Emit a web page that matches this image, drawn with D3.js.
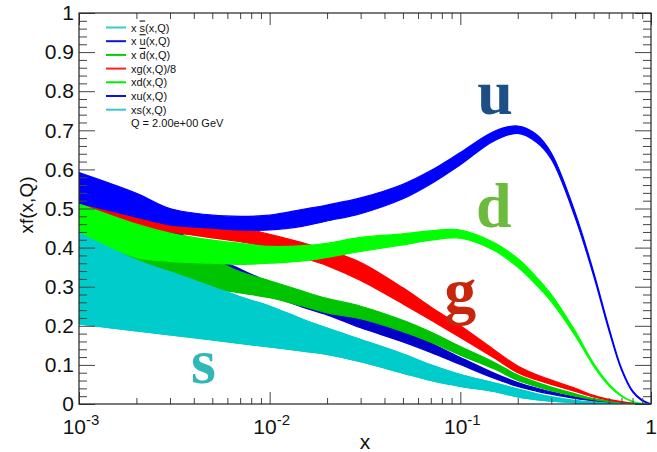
<!DOCTYPE html>
<html>
<head>
<meta charset="utf-8">
<script src="https://cdn.jsdelivr.net/npm/d3@7"></script>
<style>
  body { margin: 0; background: #fff; }
  text { font-family: "Liberation Sans", Arial, sans-serif; }
</style>
</head>
<body>
<svg id="chart" width="657" height="452"></svg>
<script>
var X = [0.001, 0.002, 0.003, 0.005, 0.007, 0.01, 0.015, 0.02, 0.03, 0.05, 0.07, 0.1, 0.15, 0.2, 0.25, 0.3, 0.4, 0.5, 0.6, 0.7, 0.8, 0.9, 1.0]

var U_LO = [0.514, 0.478, 0.458, 0.450, 0.445, 0.445, 0.455, 0.468, 0.487, 0.525, 0.563, 0.612, 0.673, 0.692, 0.670, 0.626, 0.477, 0.328, 0.190, 0.087, 0.031, 0.008, 0]
var U_HI = [0.592, 0.539, 0.500, 0.483, 0.480, 0.483, 0.498, 0.509, 0.527, 0.562, 0.597, 0.643, 0.697, 0.711, 0.690, 0.642, 0.490, 0.338, 0.198, 0.092, 0.034, 0.010, 0]
var D_LO = [0.437, 0.375, 0.365, 0.360, 0.357, 0.360, 0.366, 0.375, 0.390, 0.407, 0.419, 0.424, 0.393, 0.350, 0.305, 0.262, 0.175, 0.097, 0.047, 0.019, 0.006, 0.001, 0]
var D_HI = [0.512, 0.460, 0.437, 0.419, 0.411, 0.403, 0.405, 0.411, 0.426, 0.435, 0.443, 0.445, 0.413, 0.372, 0.325, 0.280, 0.187, 0.104, 0.052, 0.022, 0.007, 0.0015, 0]
var G_LO = [0.470, 0.450, 0.440, 0.425, 0.415, 0.400, 0.374, 0.354, 0.316, 0.256, 0.215, 0.170, 0.118, 0.080, 0.062, 0.050, 0.032, 0.018, 0.010, 0.005, 0.002, 0.0005, 0]
var G_HI = [0.530, 0.500, 0.485, 0.465, 0.452, 0.434, 0.412, 0.394, 0.362, 0.297, 0.248, 0.200, 0.139, 0.097, 0.075, 0.061, 0.040, 0.022, 0.012, 0.006, 0.002, 0.0005, 0]
var DBAR_LO = [0.437, 0.368, 0.335, 0.297, 0.284, 0.272, 0.250, 0.233, 0.218, 0.185, 0.158, 0.125, 0.090, 0.060, 0.045, 0.034, 0.020, 0.011, 0.006, 0.003, 0.001, 0.0003, 0]
var DBAR_HI = [0.517, 0.450, 0.410, 0.370, 0.338, 0.315, 0.288, 0.270, 0.250, 0.214, 0.184, 0.147, 0.107, 0.074, 0.056, 0.043, 0.026, 0.014, 0.008, 0.004, 0.0015, 0.0003, 0]
var UBAR_LO = [0.514, 0.430, 0.390, 0.330, 0.300, 0.278, 0.247, 0.228, 0.195, 0.159, 0.132, 0.101, 0.066, 0.045, 0.033, 0.025, 0.014, 0.008, 0.004, 0.002, 0.0007, 0.0001, 0]
var UBAR_HI = [0.590, 0.500, 0.455, 0.380, 0.345, 0.312, 0.284, 0.266, 0.235, 0.189, 0.156, 0.119, 0.079, 0.055, 0.041, 0.031, 0.018, 0.010, 0.005, 0.0025, 0.001, 0.0002, 0]
var S_LO = [0.205, 0.187, 0.177, 0.164, 0.155, 0.146, 0.135, 0.127, 0.108, 0.079, 0.060, 0.045, 0.032, 0.018, 0.011, 0.007, 0.003, 0.0015, 0.0007, 0.0003, 0.0001, 0, 0]
var S_HI = [0.437, 0.368, 0.338, 0.300, 0.274, 0.250, 0.216, 0.194, 0.165, 0.128, 0.100, 0.075, 0.054, 0.038, 0.026, 0.018, 0.009, 0.005, 0.0025, 0.001, 0.0004, 0.0001, 0]

var Y_TICKS = [0, 0.1, 0.2, 0.3, 0.4, 0.5, 0.6, 0.7, 0.8, 0.9, 1]
var X_TICKS = [1e-3, 1e-2, 1e-1, 1]
var X_TICK_LABELS = [["10", "-3"], ["10", "-2"], ["10", "-1"], ["1", ""]]

// legend entries, drawn in this order too (sbar first, s last on top)
var SERIES = [
  {name: "sbar", label: ["x ", "s", "(x,Q)"], bar: true, color: "#00cccc", legend: "#33cccc", lo: S_LO, hi: S_HI},
  {name: "ubar", label: ["x ", "u", "(x,Q)"], bar: true, color: "#0000c8", legend: "#1010e0", lo: UBAR_LO, hi: UBAR_HI},
  {name: "dbar", label: ["x ", "d", "(x,Q)"], bar: true, color: "#00c400", legend: "#00cc00", lo: DBAR_LO, hi: DBAR_HI},
  {name: "g", label: ["xg(x,Q)/8"], color: "#ff0000", legend: "#ff2020", lo: G_LO, hi: G_HI},
  {name: "d", label: ["xd(x,Q)"], color: "#00ff00", legend: "#00ee00", lo: D_LO, hi: D_HI},
  {name: "u", label: ["xu(x,Q)"], color: "#0000ff", legend: "#1010ee", lo: U_LO, hi: U_HI},
  {name: "s", label: ["xs(x,Q)"], color: "#00cccc", legend: "#33cccc", lo: S_LO, hi: S_HI}
]

var BIG_LABELS = [
  {t: "u", x: 0.152, y: 0.742, color: "#1b4f86"},
  {t: "d", x: 0.15, y: 0.452, color: "#6cba3e"},
  {t: "g", x: 0.1, y: 0.235, color: "#c8260c"},
  {t: "s", x: 0.0045, y: 0.054, color: "#30b8b8"}
]

var LEFT = 79, RIGHT = 651, TOP = 13, BOTTOM = 404

var svg = d3.select("#chart")
var x = d3.scaleLog().domain([1e-3, 1]).range([LEFT, RIGHT])
var y = d3.scaleLinear().domain([0, 1]).range([BOTTOM, TOP])

svg.append("defs").append("clipPath").attr("id", "plotclip")
  .append("rect").attr("x", LEFT).attr("y", TOP).attr("width", RIGHT - LEFT).attr("height", BOTTOM - TOP)

var area = d3.area()
  .x(function(d) { return x(d[0]) })
  .y0(function(d) { return y(Math.max(0, d[1])) })
  .y1(function(d) { return y(Math.max(0, d[2])) })
  .curve(d3.curveCatmullRom.alpha(0.5))

var bands = svg.append("g").attr("clip-path", "url(#plotclip)")
SERIES.forEach(function(s) {
  var pts = X.map(function(xv, i) { return [xv, s.lo[i], s.hi[i]] })
  bands.append("path")
    .datum(pts)
    .attr("d", area)
    .attr("fill", s.color)
    .attr("stroke", s.color)
    .attr("stroke-width", 1.2)
})

// minor tick values
var yMinor = d3.range(0, 51).map(function(i) { return i / 50 }).filter(function(v, i) { return i % 5 != 0 })
var xMinor = []
for (var e = -3; e < 0; e++) {
  for (var k = 2; k < 10; k++) xMinor.push(k * Math.pow(10, e))
}

function styleAxis(g) {
  g.select(".domain").remove()
  g.selectAll(".tick line").attr("stroke", "#444").attr("stroke-width", 1)
}

svg.append("g").attr("transform", "translate(" + LEFT + ",0)")
  .call(d3.axisLeft(y).tickValues(Y_TICKS).tickSize(-16).tickPadding(5).tickFormat(d3.format("~g")))
  .call(styleAxis)
  .selectAll("text").attr("font-size", 21).attr("fill", "#111")
svg.append("g").attr("transform", "translate(" + LEFT + ",0)")
  .call(d3.axisLeft(y).tickValues(yMinor).tickSize(-8).tickFormat(""))
  .call(styleAxis)
svg.append("g").attr("transform", "translate(" + RIGHT + ",0)")
  .call(d3.axisRight(y).tickValues(Y_TICKS).tickSize(-16).tickFormat(""))
  .call(styleAxis)
svg.append("g").attr("transform", "translate(" + RIGHT + ",0)")
  .call(d3.axisRight(y).tickValues(yMinor).tickSize(-8).tickFormat(""))
  .call(styleAxis)

svg.append("g").attr("transform", "translate(0," + BOTTOM + ")")
  .call(d3.axisBottom(x).tickValues(X_TICKS).tickSize(-12).tickFormat(""))
  .call(styleAxis)
svg.append("g").attr("transform", "translate(0," + BOTTOM + ")")
  .call(d3.axisBottom(x).tickValues(xMinor).tickSize(-6).tickFormat(""))
  .call(styleAxis)
svg.append("g").attr("transform", "translate(0," + TOP + ")")
  .call(d3.axisTop(x).tickValues(X_TICKS).tickSize(-12).tickFormat(""))
  .call(styleAxis)
svg.append("g").attr("transform", "translate(0," + TOP + ")")
  .call(d3.axisTop(x).tickValues(xMinor).tickSize(-6).tickFormat(""))
  .call(styleAxis)

X_TICKS.forEach(function(v, i) {
  var t = svg.append("text")
    .attr("x", x(v) + (i == X_TICKS.length - 1 ? 0 : 2))
    .attr("y", 434)
    .attr("text-anchor", "middle")
    .attr("font-size", 21)
    .attr("fill", "#111")
  t.append("tspan").text(X_TICK_LABELS[i][0])
  if (X_TICK_LABELS[i][1]) {
    t.append("tspan").attr("dy", -9).attr("font-size", 15).text(X_TICK_LABELS[i][1])
  }
})

svg.append("rect")
  .attr("x", LEFT).attr("y", TOP)
  .attr("width", RIGHT - LEFT).attr("height", BOTTOM - TOP)
  .attr("fill", "none").attr("stroke", "#222").attr("stroke-width", 1.2)

svg.append("text")
  .attr("x", (LEFT + RIGHT) / 2).attr("y", 449)
  .attr("text-anchor", "middle").attr("font-size", 21).attr("fill", "#111")
  .text("x")

svg.append("text")
  .attr("transform", "translate(33,205) rotate(-90)")
  .attr("text-anchor", "middle").attr("font-size", 19).attr("fill", "#111")
  .text("xf(x,Q)")

// legend
var legend = svg.append("g")
SERIES.forEach(function(s, i) {
  var cy = 27.5 + i * 13.7
  legend.append("line")
    .attr("x1", 106).attr("x2", 126).attr("y1", cy).attr("y2", cy)
    .attr("stroke", s.legend).attr("stroke-width", 2)
  var t = legend.append("text")
    .attr("x", 131).attr("y", cy + 4)
    .attr("font-size", 11).attr("fill", "#111")
  t.append("tspan").text(s.label[0])
  if (s.bar) {
    t.append("tspan").style("text-decoration", "overline").text(s.label[1])
    t.append("tspan").text(s.label[2])
  }
})
legend.append("text")
  .attr("x", 131).attr("y", 27.5 + 7 * 13.7 + 4)
  .attr("font-size", 11).attr("fill", "#111")
  .text("Q = 2.00e+00 GeV")

BIG_LABELS.forEach(function(b) {
  svg.append("text")
    .attr("x", x(b.x)).attr("y", y(b.y))
    .attr("text-anchor", "middle")
    .style("font-family", "'Liberation Serif', 'DejaVu Serif', serif")
    .attr("font-weight", "bold")
    .attr("font-size", 64)
    .attr("fill", b.color)
    .text(b.t)
})
</script>
</body>
</html>
